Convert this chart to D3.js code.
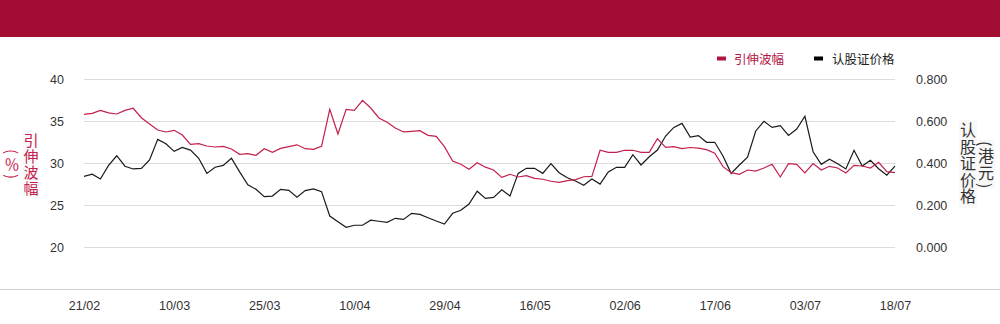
<!DOCTYPE html>
<html><head><meta charset="utf-8">
<script src="https://cdn.jsdelivr.net/npm/d3@7"></script>
<style>
html,body{margin:0;padding:0;background:#fff;}
svg{display:block;}
</style></head>
<body>
<svg id="chart" width="1000" height="324"></svg>
<script>
const dates = ["21/02","24/02","25/02","26/02","27/02","28/02",
"03/03","04/03","05/03","06/03","07/03","10/03","11/03","12/03","13/03","14/03","17/03","18/03","19/03","20/03","21/03","24/03","25/03","26/03","27/03","28/03","31/03",
"01/04","02/04","03/04","07/04","08/04","09/04","10/04","11/04","14/04","15/04","16/04","17/04","22/04","23/04","24/04","25/04","28/04","29/04","30/04",
"02/05","06/05","07/05","08/05","09/05","12/05","13/05","14/05","15/05","16/05","19/05","20/05","21/05","22/05","23/05","26/05","27/05","28/05","29/05","30/05",
"02/06","03/06","04/06","05/06","06/06","09/06","10/06","11/06","12/06","13/06","16/06","17/06","18/06","19/06","20/06","23/06","24/06","25/06","26/06","27/06","30/06",
"02/07","03/07","04/07","07/07","08/07","09/07","10/07","11/07","14/07","15/07","16/07","17/07","18/07"];

const impliedVol = [35.83,35.95,36.3,36.0,35.87,36.3,36.55,35.43,34.68,33.96,33.73,33.93,33.37,32.26,32.33,32.06,31.94,32.02,31.7,31.07,31.14,30.95,31.74,31.3,31.77,31.98,32.2,31.74,31.67,32.02,36.43,33.49,36.43,36.3,37.5,36.58,35.4,34.88,34.2,33.73,33.8,33.88,33.33,33.2,31.98,30.27,29.88,29.29,30.07,29.54,29.2,28.33,28.69,28.37,28.52,28.21,28.1,27.86,27.74,27.93,28.05,28.4,28.45,31.55,31.31,31.31,31.55,31.55,31.31,31.31,32.93,31.9,31.98,31.74,31.88,31.8,31.62,31.19,29.6,28.88,28.69,29.2,29.08,29.44,29.88,28.37,29.96,29.88,28.85,29.96,29.2,29.64,29.44,28.85,29.76,29.68,29.44,30.12,29.0,28.88];

const warrantPrice = [0.338,0.348,0.325,0.39,0.436,0.386,0.373,0.376,0.416,0.514,0.493,0.457,0.476,0.463,0.424,0.352,0.381,0.39,0.424,0.359,0.298,0.276,0.241,0.244,0.276,0.271,0.238,0.27,0.278,0.265,0.149,0.122,0.095,0.105,0.105,0.129,0.124,0.119,0.138,0.133,0.162,0.157,0.141,0.125,0.111,0.162,0.176,0.206,0.267,0.233,0.238,0.274,0.244,0.352,0.376,0.376,0.352,0.398,0.355,0.331,0.316,0.295,0.325,0.301,0.359,0.381,0.381,0.441,0.392,0.431,0.463,0.53,0.571,0.59,0.525,0.532,0.5,0.5,0.435,0.352,0.392,0.429,0.554,0.6,0.571,0.579,0.533,0.563,0.624,0.455,0.395,0.419,0.398,0.373,0.462,0.387,0.414,0.374,0.343,0.387];

const xTickLabels = ["21/02","10/03","25/03","10/04","29/04","16/05","02/06","17/06","03/07","18/07"];
const leftTicks = [20,25,30,35,40];
const rightTicks = [0,0.2,0.4,0.6,0.8];
const seriesNames = ["引伸波幅","认股证价格"];
const leftTitle = "引伸波幅";
const leftUnit = "(％)";
const rightTitle = "认股证价格";
const rightUnit = "(港元)";

const RED = "#c4204b", BLACK = "#1a1a1a", HEADER = "#a30d34";
const NUM_FONT = "'Liberation Sans', Arial, sans-serif";
const CJK_FONT = "'Noto Sans CJK SC', 'Noto Sans', sans-serif";

const svg = d3.select("#chart");
svg.append("rect").attr("x",0).attr("y",0).attr("width",1000).attr("height",37).attr("fill",HEADER);

const x = d3.scalePoint().domain(dates).range([84, 895]);
const yL = d3.scaleLinear().domain([20,40]).range([247.3, 79.3]);
const yR = d3.scaleLinear().domain([0,0.8]).range([247.3, 79.3]);

// gridlines
svg.append("g").selectAll("line").data(leftTicks).join("line")
  .attr("x1",84).attr("x2",895)
  .attr("y1",d=>Math.round(yL(d))+0.5).attr("y2",d=>Math.round(yL(d))+0.5)
  .attr("stroke","#dcdcdc").attr("stroke-width",1);

// bottom baseline
svg.append("line").attr("x1",0).attr("x2",1000).attr("y1",289.5).attr("y2",289.5)
  .attr("stroke","#cfcfcf").attr("stroke-width",1);

// left axis
const gL = svg.append("g").attr("transform","translate(64,0)")
  .call(d3.axisLeft(yL).tickValues(leftTicks).tickSize(0).tickPadding(0).tickFormat(d3.format("d")));
gL.select(".domain").remove();
gL.selectAll("text").attr("font-family",NUM_FONT).attr("font-size",12.5).attr("fill","#333");

// right axis
const gR = svg.append("g").attr("transform","translate(916,0)")
  .call(d3.axisRight(yR).tickValues(rightTicks).tickSize(0).tickPadding(0).tickFormat(d3.format(".3f")));
gR.select(".domain").remove();
gR.selectAll("text").attr("font-family",NUM_FONT).attr("font-size",12.5).attr("fill","#333");

// x axis
const gX = svg.append("g").attr("transform","translate(0,301)")
  .call(d3.axisBottom(x).tickValues(xTickLabels).tickSize(0).tickPadding(0));
gX.select(".domain").remove();
gX.selectAll("text").attr("font-family",NUM_FONT).attr("font-size",12.5).attr("fill","#333");

// lines
const lineL = d3.line().x((d,i)=>x(dates[i])).y(d=>yL(d));
const lineR = d3.line().x((d,i)=>x(dates[i])).y(d=>yR(d));
svg.append("path").datum(warrantPrice).attr("d",lineR).attr("fill","none")
  .attr("stroke",BLACK).attr("stroke-width",1.2).attr("stroke-linejoin","miter");
svg.append("path").datum(impliedVol).attr("d",lineL).attr("fill","none")
  .attr("stroke",RED).attr("stroke-width",1.2).attr("stroke-linejoin","miter");

// legend
const legend = svg.append("g");
legend.append("rect").attr("x",717).attr("y",56.5).attr("width",9).attr("height",4).attr("fill","#b3143f");
legend.append("text").attr("x",734).attr("y",58.5).attr("dominant-baseline","central")
  .attr("font-family",CJK_FONT).attr("font-size",12.5).attr("fill","#b3143f").text(seriesNames[0]);
legend.append("rect").attr("x",814).attr("y",56.5).attr("width",9).attr("height",4).attr("fill","#000");
legend.append("text").attr("x",832).attr("y",58.5).attr("dominant-baseline","central")
  .attr("font-family",CJK_FONT).attr("font-size",12.5).attr("fill","#222").text(seriesNames[1]);

// vertical titles (one text element per column)
function vcol(str, cx, top, color, size, spacing){
  svg.append("text").attr("x",cx).attr("y",top)
    .attr("style",`writing-mode: vertical-rl; letter-spacing:${spacing}px;`)
    .attr("font-family",CJK_FONT).attr("font-size",size).attr("fill",color).text(str);
}
svg.append("rect").attr("x",23).attr("y",131).attr("width",16).attr("height",66).attr("fill","#fafafa");
vcol(leftTitle, 31, 133, RED, 15, 1);
vcol(leftUnit, 12, 149, RED, 15, 2.5);
svg.append("rect").attr("x",959).attr("y",120).attr("width",18).attr("height",88).attr("fill","#f8f8f8");
vcol(rightTitle, 968, 122, "#333", 16, 0.6);
svg.append("rect").attr("x",978).attr("y",140).attr("width",17).attr("height",48).attr("fill","#f8f8f8");
vcol(rightUnit, 986, 141, "#333", 16, 1.5);
</script>
</body></html>
